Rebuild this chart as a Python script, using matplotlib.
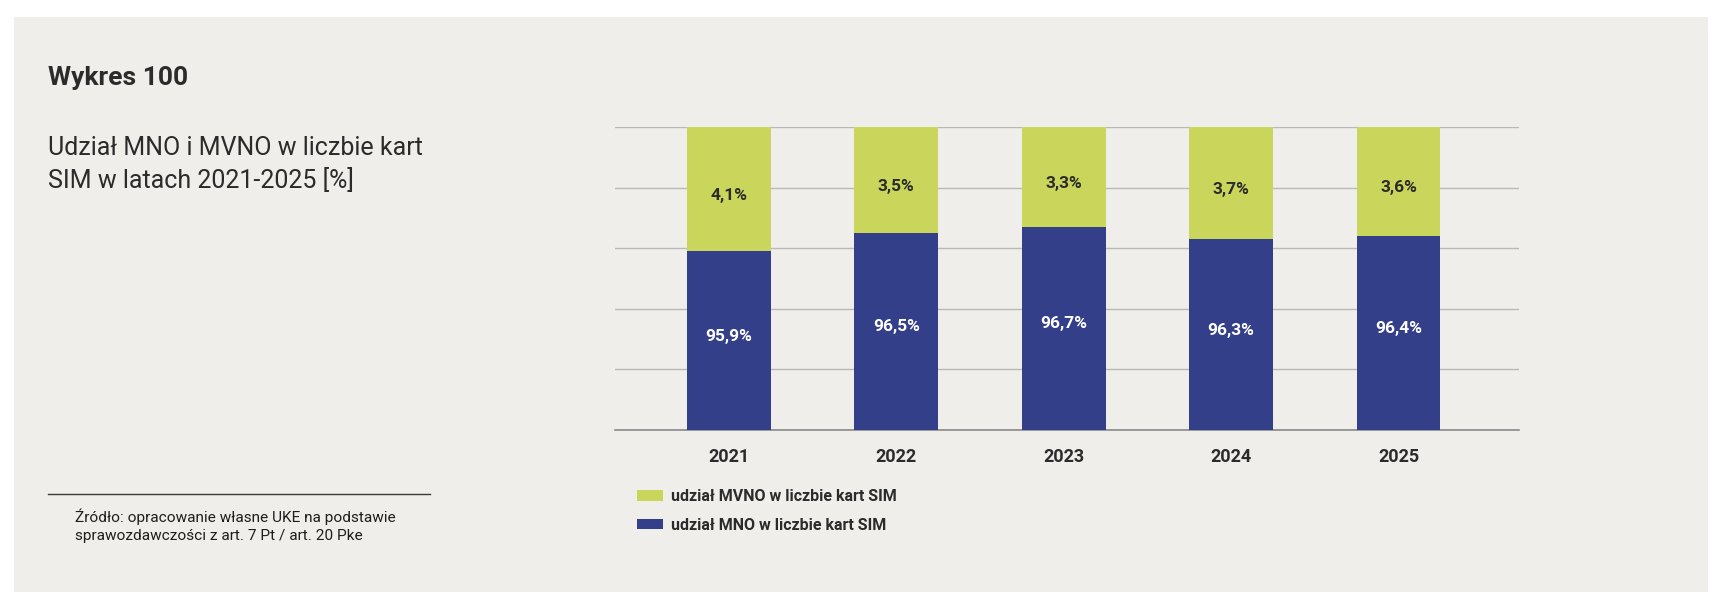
import numpy as np
import matplotlib.pyplot as plt
from matplotlib.patches import Rectangle
from matplotlib.lines import Line2D

# data
years = ['2021', '2022', '2023', '2024', '2025']
mno_share = [95.9, 96.5, 96.7, 96.3, 96.4]
mvno_share = [4.1, 3.5, 3.3, 3.7, 3.6]
mno_labels = ['95,9%', '96,5%', '96,7%', '96,3%', '96,4%']
mvno_labels = ['4,1%', '3,5%', '3,3%', '3,7%', '3,6%']
legend_labels = ['udział MVNO w liczbie kart SIM', 'udział MNO w liczbie kart SIM']

title = 'Wykres 100'
subtitle = 'Udział MNO i MVNO w liczbie kart\nSIM w latach 2021-2025 [%]'
source = 'Źródło: opracowanie własne UKE na podstawie\nsprawozdawczości z art. 7 Pt / art. 20 Pke'

green = '#c9d55b'
navy = '#343f8a'
text_col = '#2b2b2b'
paper = '#efeeea'

plt.rcParams['font.family'] = ['Roboto', 'DejaVu Sans']

W, H = 1728, 608
fig = plt.figure(figsize=(W / 100, H / 100), dpi=100, facecolor='white')

# paper background
fig.patches.append(Rectangle((14 / W, 1 - 592 / H), (1708 - 14) / W, (592 - 17) / H,
                             transform=fig.transFigure, facecolor=paper, edgecolor='none', zorder=-10))

fig.text(48 / W, 1 - 78 / H, title, fontsize=19, fontweight='bold', color=text_col, va='center')
fig.text(48 / W, 1 - 165 / H, subtitle, fontsize=18, color=text_col, va='center', linespacing=1.4)

# separator and source
fig.add_artist(Line2D([48 / W, 430 / W], [1 - 494 / H, 1 - 494 / H], transform=fig.transFigure,
                      color='#3a3a3a', linewidth=1))
fig.text(75 / W, 1 - 526 / H, source, fontsize=11.1, color='#1e1e1e', va='center', linespacing=1.4)

ax = fig.add_axes([615 / W, 1 - 430 / H, (1519 - 615) / W, (430 - 127) / H])
ax.set_facecolor('none')

x = np.arange(len(years))
b1 = ax.bar(x, mno_share, width=0.5, color=navy, zorder=3)
b2 = ax.bar(x, mvno_share, width=0.5, bottom=mno_share, color=green, zorder=3)

ax.set_ylim(90, 100)
ax.set_xlim(-0.68, 4.72)
ax.set_yticks(np.arange(90, 101, 2))
ax.yaxis.grid(True, color='#b9b9b9', linewidth=1, zorder=0)
ax.tick_params(axis='y', length=0, labelleft=False)
ax.tick_params(axis='x', length=0, pad=13)
ax.set_xticks(x)
ax.set_xticklabels(years, fontsize=13, fontweight='bold', color=text_col)
for s in ['top', 'left', 'right']:
    ax.spines[s].set_visible(False)
ax.spines['bottom'].set_color('#8a8a8a')
ax.spines['bottom'].set_linewidth(1.2)

for i in range(len(years)):
    ax.text(x[i], (90 + mno_share[i]) / 2 + 0.15, mno_labels[i], ha='center', va='center',
            fontsize=12.5, fontweight='bold', color='white', zorder=4)
    ax.text(x[i], mno_share[i] + mvno_share[i] / 2 - 0.2, mvno_labels[i], ha='center', va='center',
            fontsize=12.5, fontweight='bold', color=text_col, zorder=4)

fig.legend([b2, b1], legend_labels, loc='upper left', bbox_to_anchor=(637 / W, 1 - 489 / H),
           frameon=False, prop={'weight': 'bold', 'size': 11.5},
           handlelength=1.6, handleheight=0.65, handletextpad=0.55, labelspacing=0.85,
           borderpad=0, borderaxespad=0, labelcolor=text_col)

fig.savefig('out.png', dpi=100, facecolor='white')
